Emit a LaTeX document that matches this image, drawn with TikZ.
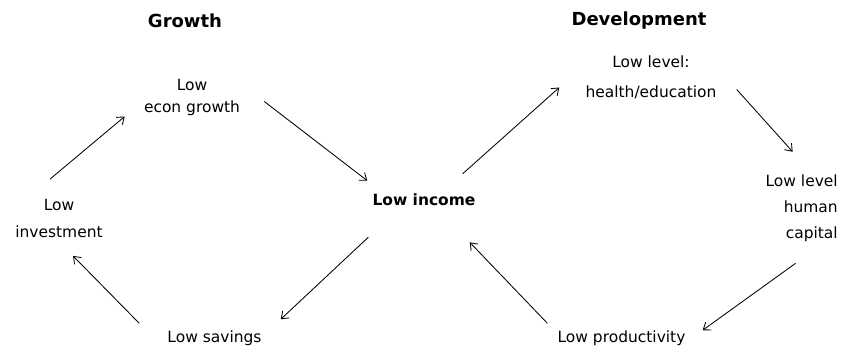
\documentclass[tikz,border=0pt]{standalone}
\usepackage{fontspec}
\setmainfont{DejaVu Sans}
\usepackage{tikz}
\usetikzlibrary{arrows.meta,positioning}

\begin{document}
\begin{tikzpicture}[
  lbl/.style={align=center, inner sep=0pt, font=\fontsize{11}{15}\selectfont},
  ttl/.style={inner sep=0pt, font=\fontsize{12.8}{15}\selectfont\bfseries},
  arr/.style={line width=0.6pt, -{Straight Barb[length=1.6mm, width=2.4mm]}}]
\useasboundingbox (0,0) rectangle (21.325,8.8);
% titles
\node[ttl] (growth) at (4.625,8.275) {Growth};
\node[ttl] (devel) at (15.975,8.275) {Development};
% growth cycle
\node[lbl] (econ) at (4.8,6.3625) {Low\\econ growth};
\node[lbl, font=\fontsize{11}{19}\selectfont] (inv) at (1.475,3.3375) {Low\\investment};
\node[lbl, font=\fontsize{11}{15}\selectfont\bfseries] (income) at (10.6,3.8) {Low income};
\node[lbl] (savings) at (5.3625,0.35) {Low savings};
% development cycle
\node[lbl, font=\fontsize{11}{21}\selectfont] (health) at (16.275,6.8625) {Low level:\\health/education};
\node[lbl, align=right, anchor=east, font=\fontsize{11}{18.5}\selectfont] (human) at (20.95,3.5875) {Low level\\human\\capital};
\node[lbl] (prod) at (15.5375,0.35) {Low productivity};
% arrows
\draw[arr] ([shift={(-0.225,0.5)}]inv.north) -- ([shift={(-0.475,-0.475)}]econ.west);
\draw[arr] ([shift={(0.6,-0.1)}]econ.east) -- ([shift={(-0.125,0.325)}]income.north west);
\draw[arr] ([shift={(-0.1,-0.775)}]income.south west) -- ([shift={(0.475,0.275)}]savings.north east);
\draw[arr] ([shift={(-0.7,0.175)}]savings.north west) -- ([shift={(0.35,-0.45)}]inv.south);
\draw[arr] ([shift={(-0.325,0.5)}]income.north east) -- ([shift={(-0.65,-0.25)}]health.west);
\draw[arr] ([shift={(0.5,-0.3)}]health.east) -- ([shift={(-0.225,0.575)}]human.north);
\draw[arr] ([shift={(-0.15,-0.525)}]human.south) -- ([shift={(0.425,0)}]prod.north east);
\draw[arr] ([shift={(-0.25,0.175)}]prod.north west) -- ([shift={(-0.15,-0.9)}]income.south east);
\end{tikzpicture}
\end{document}
